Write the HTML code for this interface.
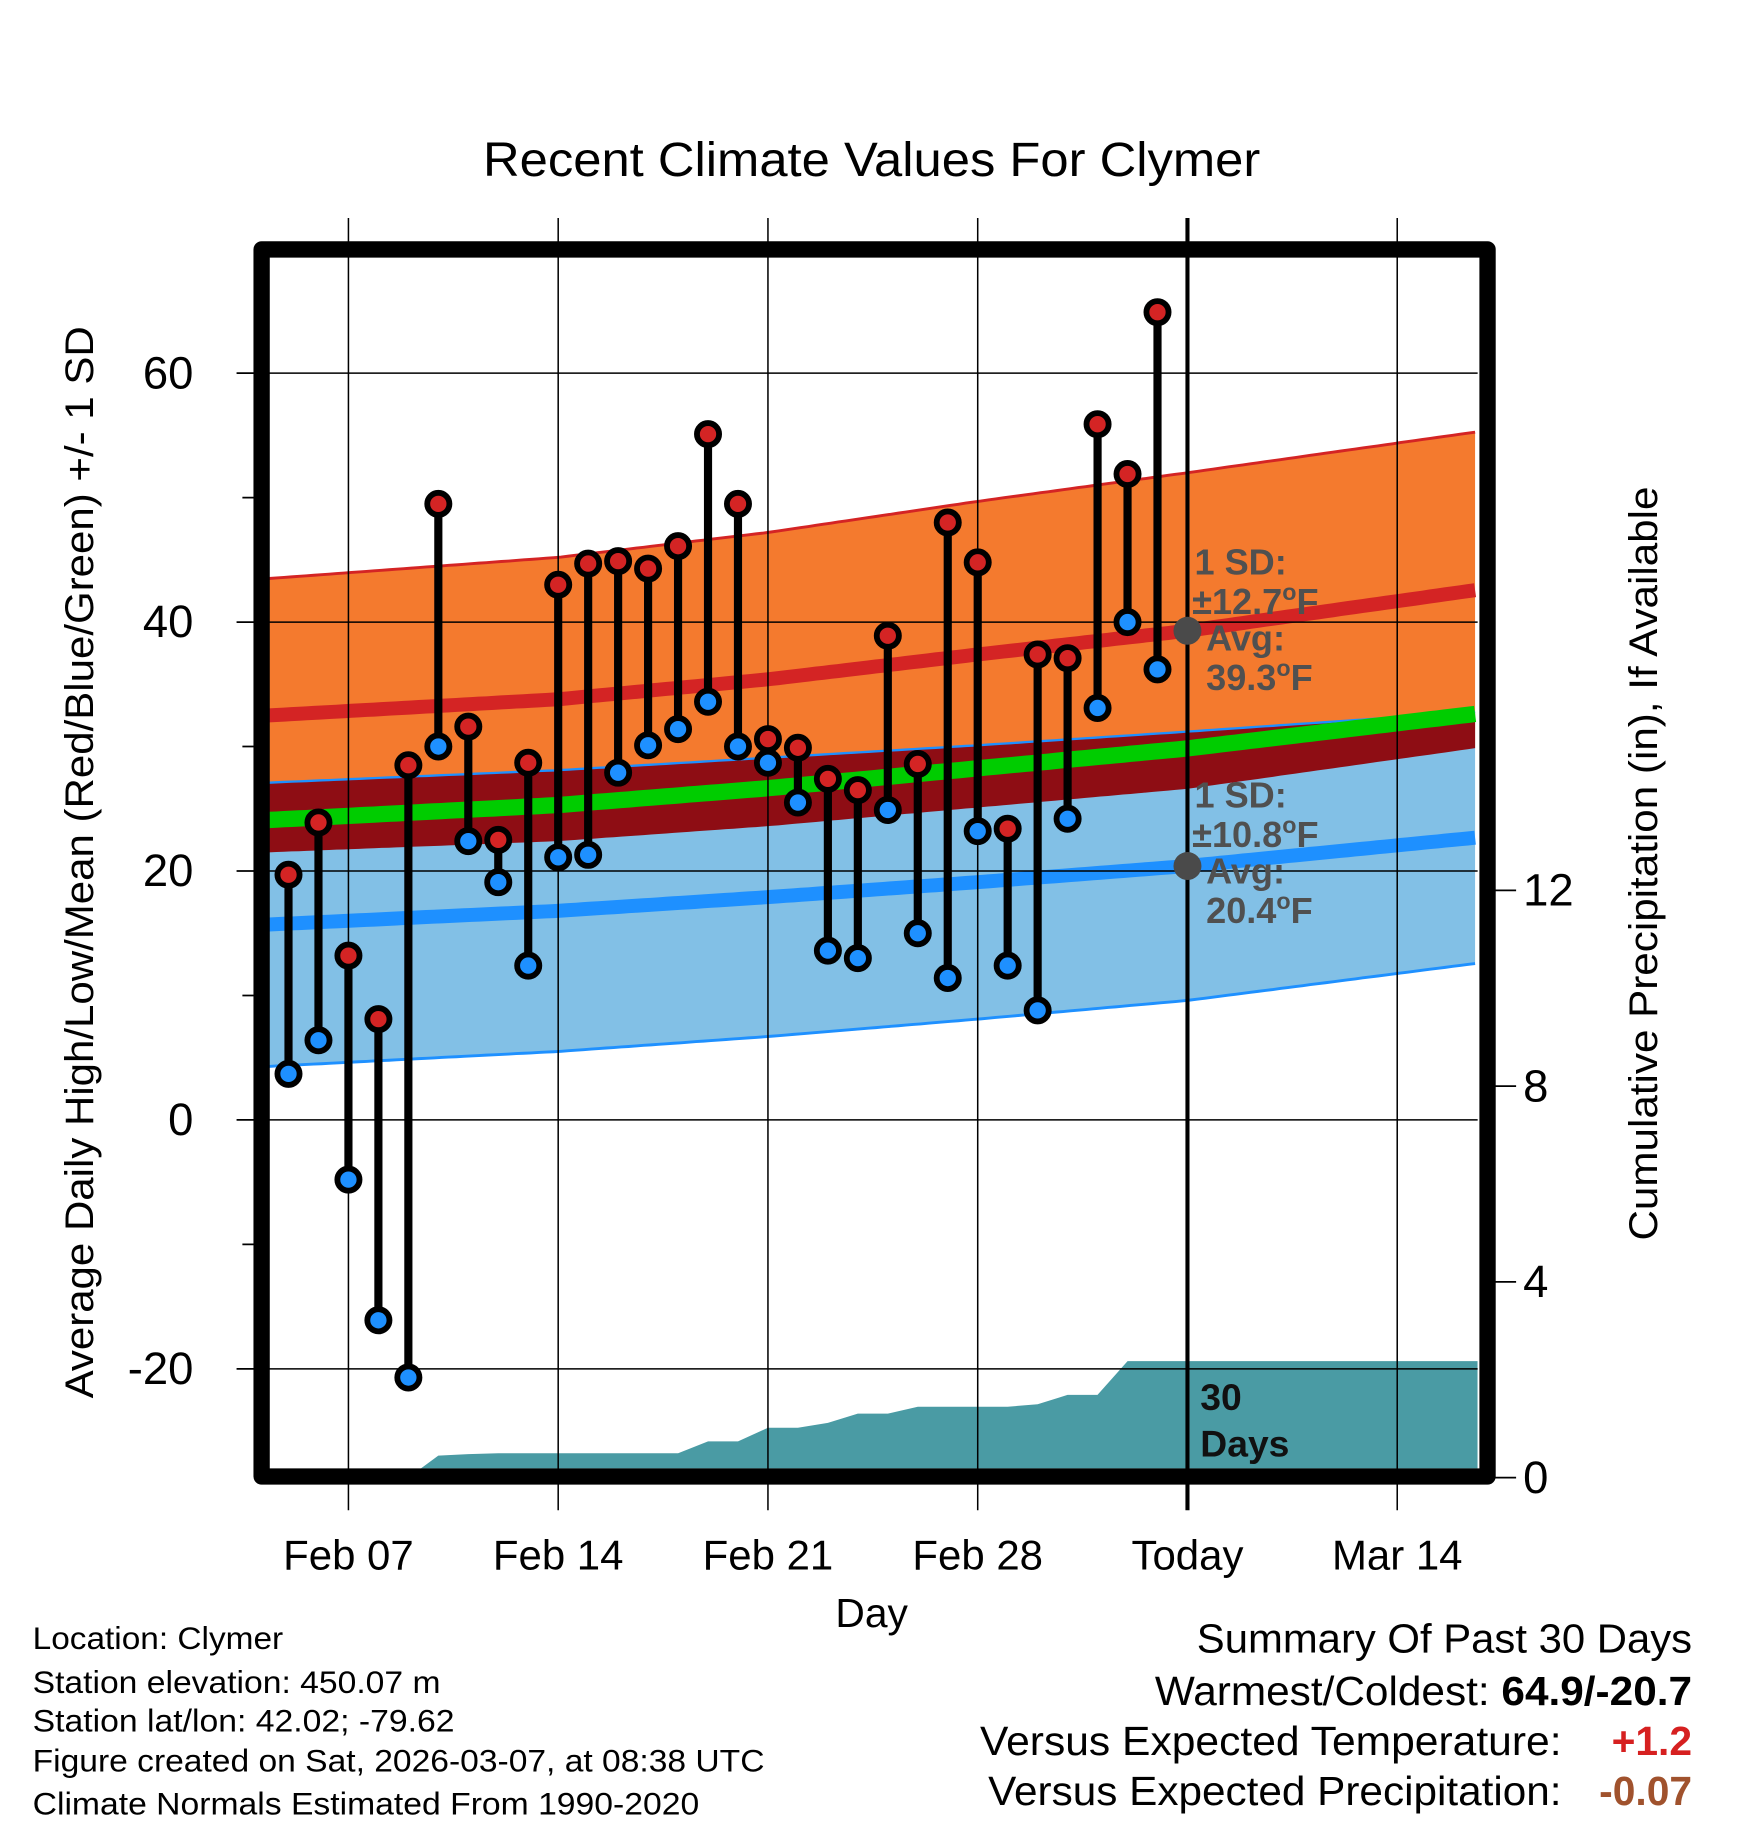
<!DOCTYPE html>
<html><head><meta charset="utf-8">
<style>html,body{margin:0;padding:0;background:#fff}svg{display:block}text{font-family:"Liberation Sans",sans-serif}</style>
</head><body>
<svg id="chart" width="1748" height="1828" viewBox="0 0 1500 1568.6" xmlns="http://www.w3.org/2000/svg">
<rect width="1500" height="1568.6" fill="#fff"/>
<text x="748" y="151" font-size="41" text-anchor="middle" textLength="667" lengthAdjust="spacingAndGlyphs">Recent Climate Values For Clymer</text>
<g id="plot"></g>
<text transform="translate(80,740) rotate(-90)" font-size="34" text-anchor="middle" textLength="920" lengthAdjust="spacingAndGlyphs">Average Daily High/Low/Mean (Red/Blue/Green) +/- 1 SD</text>
<text transform="translate(1422,741) rotate(-90)" font-size="34" text-anchor="middle" textLength="647" lengthAdjust="spacingAndGlyphs">Cumulative Precipitation (in), If Available</text>
<text x="748" y="1396" font-size="35" text-anchor="middle">Day</text>
<g font-size="27" lengthAdjust="spacingAndGlyphs">
<text x="28" y="1415" textLength="215" lengthAdjust="spacingAndGlyphs">Location: Clymer</text>
<text x="28" y="1453" textLength="350" lengthAdjust="spacingAndGlyphs">Station elevation: 450.07 m</text>
<text x="28" y="1486" textLength="362" lengthAdjust="spacingAndGlyphs">Station lat/lon: 42.02; -79.62</text>
<text x="28" y="1520" textLength="628" lengthAdjust="spacingAndGlyphs">Figure created on Sat, 2026-03-07, at 08:38 UTC</text>
<text x="28" y="1557" textLength="572" lengthAdjust="spacingAndGlyphs">Climate Normals Estimated From 1990-2020</text>
</g>
<g font-size="35">
<text x="1027" y="1418" textLength="425" lengthAdjust="spacingAndGlyphs">Summary Of Past 30 Days</text>
<text x="991" y="1463" textLength="461" lengthAdjust="spacingAndGlyphs">Warmest/Coldest: <tspan font-weight="bold">64.9/-20.7</tspan></text>
<text x="841" y="1506" textLength="499" lengthAdjust="spacingAndGlyphs">Versus Expected Temperature:</text>
<text x="1452" y="1506" text-anchor="end" font-weight="bold" fill="#d62020">+1.2</text>
<text x="848" y="1549" textLength="492" lengthAdjust="spacingAndGlyphs">Versus Expected Precipitation:</text>
<text x="1452" y="1549" text-anchor="end" font-weight="bold" fill="#a0522d">-0.07</text>
</g>
</svg>
<script>
// Day index: 0 = Feb 07
const obsDays=[-2,-1,0,1,2,3,4,5,6,7,8,9,10,11,12,13,14,15,16,17,18,19,20,21,22,23,24,25,26,27];
const highs=[19.7,23.9,13.2,8.1,28.5,49.5,31.6,22.5,28.7,43.0,44.7,44.9,44.3,46.1,55.1,49.5,30.6,29.9,27.4,26.5,38.9,28.6,48.0,44.8,23.4,37.4,37.1,55.9,51.9,64.9];
const lows=[3.7,6.4,-4.8,-16.1,-20.7,30.0,22.4,19.1,12.4,21.1,21.3,27.9,30.1,31.4,33.6,30.0,28.7,25.5,13.6,13.0,24.9,15.0,11.4,23.2,12.4,8.8,24.2,33.1,40.0,36.2];
const precip=[0,0,0,0,0,0.45,0.48,0.5,0.5,0.5,0.5,0.5,0.5,0.5,0.74,0.74,1.02,1.02,1.12,1.31,1.31,1.45,1.45,1.45,1.45,1.5,1.69,1.69,2.38,2.38];
const normDays=[-2.65,7,14,21,28,37.7];
const normHigh=[32.5,33.8,35.4,37.4,39.3,42.6];
const normHighSD=[11.0,11.4,11.8,12.3,12.7,12.7];
const normLow=[15.7,16.8,17.9,19.1,20.4,22.7];
const normLowSD=[11.4,11.3,11.2,11.0,10.8,10.1];
const tickDays=[0,7,14,21,28,35];
const tickLabels=["Feb 07","Feb 14","Feb 21","Feb 28","Today","Mar 14"];
const yTicks=[60,40,20,0,-20];
const yMinor=[50,30,10,-10];
const pTicks=[0,4,8,12];

const L=231,R=1268,T=221,B=1260;
const X=d=>299+d*25.714;
const Y=v=>961-v*10.68;
const P=p=>1268-p*42;
const NS="http://www.w3.org/2000/svg";
const g=document.getElementById('plot');
function el(tag,attrs,parent){const e=document.createElementNS(NS,tag);for(const k in attrs)e.setAttribute(k,attrs[k]);(parent||g).appendChild(e);return e;}
function interp(arr,d){for(let i=0;i<normDays.length-1;i++){if(d<=normDays[i+1]||i==normDays.length-2){const t=(d-normDays[i])/(normDays[i+1]-normDays[i]);return arr[i]+t*(arr[i+1]-arr[i]);}}}
const samp=[];for(let d=normDays[0];d<=normDays[normDays.length-1]+0.001;d+=0.25)samp.push(d);
const hM=d=>interp(normHigh,d),hS=d=>interp(normHighSD,d),lM=d=>interp(normLow,d),lS=d=>interp(normLowSD,d);
function band(top,bot){let s='M';samp.forEach((d,i)=>{s+=(i?' L':'')+X(d).toFixed(1)+','+Y(top(d)).toFixed(1)});for(let i=samp.length-1;i>=0;i--){s+=' L'+X(samp[i]).toFixed(1)+','+Y(bot(samp[i])).toFixed(1)}return s+'Z';}
function line(f){return 'M'+samp.map(d=>X(d).toFixed(1)+','+Y(f(d)).toFixed(1)).join(' L');}
const clip=el('clipPath',{id:'pc'});el('rect',{x:L,y:T,width:R-L,height:B-T},clip);
const cg=el('g',{'clip-path':'url(#pc)'});

let e;
e=el('path',{d:band(d=>hM(d)+hS(d),d=>hM(d)-hS(d)),fill:'#f47a2e'},cg);


e=el('path',{d:band(d=>lM(d)+lS(d),d=>lM(d)-lS(d)),fill:'#82c0e6'},cg);


e=el('path',{d:band(d=>lM(d)+lS(d),d=>hM(d)-hS(d)),fill:'#8e0d14'},cg);


el('path',{d:line(d=>hM(d)+hS(d)),stroke:'#d42424',fill:'none','stroke-width':2.5},cg);
el('path',{d:line(d=>lM(d)+lS(d)),stroke:'#1e90ff',fill:'none','stroke-width':2},cg);
el('path',{d:line(d=>lM(d)-lS(d)),stroke:'#1e90ff',fill:'none','stroke-width':2.5},cg);
e=el('path',{d:line(hM),stroke:'#d42424',fill:'none','stroke-width':12},cg);


e=el('path',{d:line(lM),stroke:'#1e90ff',fill:'none','stroke-width':12},cg);


e=el('path',{d:line(d=>(hM(d)+lM(d))/2),stroke:'#00cc00',fill:'none','stroke-width':14},cg);



// precipitation area
let ps='M'+X(obsDays[0])+','+P(0);
obsDays.forEach((d,i)=>{ps+=' L'+X(d).toFixed(1)+','+P(precip[i]).toFixed(1)});
ps+=' L'+R+','+P(precip[precip.length-1]).toFixed(1)+' L'+R+','+(B+10)+' L'+X(obsDays[0])+','+(B+10)+'Z';
e=el('path',{d:ps,fill:'#4a9ba4'},cg);



// gridlines
yTicks.forEach(v=>{el('line',{x1:L,x2:R,y1:Y(v),y2:Y(v),stroke:'#000','stroke-width':1.3});});
tickDays.forEach((d,i)=>{
  el('line',{x1:X(d),x2:X(d),y1:187,y2:1296,stroke:'#000','stroke-width':i==4?3.5:1.3});
  e=el('text',{x:X(d),y:1347,'font-size':36,'text-anchor':'middle'});
  e.textContent=tickLabels[i];
  
  
});
yTicks.forEach(v=>{
  el('line',{x1:203,x2:L,y1:Y(v),y2:Y(v),stroke:'#000','stroke-width':1.5});
  e=el('text',{x:166,y:Y(v)+13,'font-size':39,'text-anchor':'end'});
  e.textContent=v;
  
  
});
yMinor.forEach(v=>el('line',{x1:208,x2:L,y1:Y(v),y2:Y(v),stroke:'#000','stroke-width':1.5}));
pTicks.forEach(p=>{
  el('line',{x1:1270,x2:1301,y1:P(p),y2:P(p),stroke:'#000','stroke-width':1.5});
  e=el('text',{x:1307,y:P(p)+13,'font-size':39});
  e.textContent=p;
  
  
});

// stems and markers
obsDays.forEach((d,i)=>{
  el('line',{x1:X(d),x2:X(d),y1:Y(highs[i]),y2:Y(lows[i]),stroke:'#000','stroke-width':7});
});
obsDays.forEach((d,i)=>{
  e=el('circle',{cx:X(d),cy:Y(highs[i]),r:9.5,fill:'#d42424',stroke:'#000','stroke-width':5});
  
  
  e=el('circle',{cx:X(d),cy:Y(lows[i]),r:9.5,fill:'#1e90ff',stroke:'#000','stroke-width':5});
  
  
});

// annotations
const tx=X(28);
el('circle',{cx:tx,cy:Y(normHigh[4]),r:12,fill:'#4a4a4a'});
el('circle',{cx:tx,cy:Y(normLow[4]),r:12,fill:'#4a4a4a'});
function ann(lines,yy){lines.forEach((t,k)=>{const e=el('text',{x:t[1],y:yy[k],'font-size':31,'font-weight':'bold',fill:'#505050'});e.innerHTML=t[0];});}
ann([['1 SD:',1025],['±12.7<tspan dy="-12" font-size="20">o</tspan><tspan dy="12">F</tspan>',1023],['Avg:',1035],['39.3<tspan dy="-12" font-size="20">o</tspan><tspan dy="12">F</tspan>',1035]],[493,527,558,592]);
ann([['1 SD:',1025],['±10.8<tspan dy="-12" font-size="20">o</tspan><tspan dy="12">F</tspan>',1023],['Avg:',1035],['20.4<tspan dy="-12" font-size="20">o</tspan><tspan dy="12">F</tspan>',1035]],[693,727,758,792]);
e=el('text',{x:1030,y:1210,'font-size':32,'font-weight':'bold',fill:'#111'});e.textContent='30';


e=el('text',{x:1030,y:1250,'font-size':32,'font-weight':'bold',fill:'#111'});e.textContent='Days';

// frame
e=el('rect',{x:224.5,y:214,width:1052,height:1053,fill:'none',stroke:'#000','stroke-width':14,'stroke-linejoin':'round'});


</script>
</body></html>
